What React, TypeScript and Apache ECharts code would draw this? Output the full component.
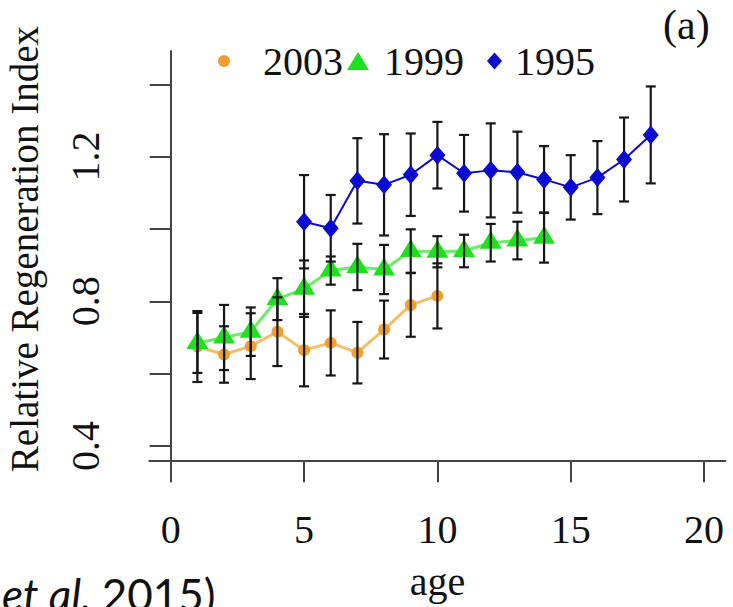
import React, { useEffect, useRef } from "react";
import * as echarts from "echarts";

// ---- data ----
const ages2003 = [1, 2, 3, 4, 5, 6, 7, 8, 9, 10];
const mean2003 = [0.675, 0.653, 0.676, 0.716, 0.665, 0.685, 0.658, 0.722, 0.79, 0.815];
const err2003 = [0.098, 0.078, 0.091, 0.095, 0.1, 0.09, 0.085, 0.08, 0.088, 0.09];

const ages1999 = [1, 2, 3, 4, 5, 6, 7, 8, 9, 10, 11, 12, 13, 14];
const mean1999 = [0.685, 0.7, 0.716, 0.806, 0.835, 0.885, 0.895, 0.888, 0.939, 0.937, 0.939, 0.962, 0.968, 0.976];
const err1999 = [0.083, 0.09, 0.067, 0.058, 0.078, 0.039, 0.064, 0.068, 0.06, 0.043, 0.045, 0.052, 0.052, 0.069];

const ages1995 = [5, 6, 7, 8, 9, 10, 11, 12, 13, 14, 15, 16, 17, 18];
const mean1995 = [1.02, 1.002, 1.133, 1.122, 1.15, 1.204, 1.154, 1.162, 1.157, 1.137, 1.115, 1.142, 1.192, 1.26];
const err1995 = [0.129, 0.092, 0.118, 0.14, 0.114, 0.092, 0.106, 0.13, 0.112, 0.092, 0.089, 0.101, 0.116, 0.134];

const xTicks = [0, 5, 10, 15, 20];
const yTicks = [0.4, 0.6, 0.8, 1.0, 1.2, 1.4];
const yTickLabels = [0.4, 0.8, 1.2];

const seriesNames = ["2003", "1999", "1995"];

const SERIF = "'Liberation Serif', 'DejaVu Serif', serif";
const SANS = "Lato, 'Open Sans', sans-serif";
const ORANGE = "#EFA030";
const ORANGE_LINE = "#F4BE68";
const GREEN = "#1EE01E";
const GREEN_LINE = "#6CEB6C";
const BLUE = "#0A0AD0";
const AXIS = "#444";

function pts(xs: number[], ys: number[]) {
  return xs.map((x, i) => [x, ys[i]]);
}
function bars(xs: number[], ys: number[], es: number[]) {
  return xs.map((x, i) => [x, ys[i] - es[i], ys[i] + es[i]]);
}

const errRender = (params: any, api: any) => {
  const x = api.value(0);
  const lo = api.value(1);
  const hi = api.value(2);
  const top = api.coord([x, hi]);
  const bot = api.coord([x, lo]);
  const w = 5;
  const style = { stroke: "#161616", lineWidth: 2.2 };
  return {
    type: "group",
    children: [
      { type: "line", shape: { x1: top[0], y1: top[1], x2: bot[0], y2: bot[1] }, style },
      { type: "line", shape: { x1: top[0] - w, y1: top[1], x2: top[0] + w, y2: top[1] }, style },
      { type: "line", shape: { x1: bot[0] - w, y1: bot[1], x2: bot[0] + w, y2: bot[1] }, style },
    ],
  };
};

export default function App() {
  const ref = useRef<HTMLDivElement>(null);
  useEffect(() => {
    if (!ref.current) return;
    const chart = echarts.init(ref.current, null, { renderer: "svg" });
    const legendText = { fontFamily: SERIF, fontSize: 40, color: "#111" };
    chart.setOption({
      animation: false,
      backgroundColor: "#fff",
      grid: {
        left: 149.4,
        right: 7.6,
        top: 51,
        bottom: 145.8,
        containLabel: false,
        outerBoundsMode: "none",
      },
      legend: [
        {
          left: 218,
          top: 41,
          padding: 0,
          itemWidth: 12,
          itemHeight: 12,
          textStyle: { ...legendText, padding: [0, 0, 0, 28] },
          data: [{ name: seriesNames[0], icon: "circle", itemStyle: { color: ORANGE } }],
          selectedMode: false,
        },
        {
          left: 347,
          top: 41,
          padding: 0,
          itemWidth: 22,
          itemHeight: 18,
          textStyle: { ...legendText, padding: [0, 0, 0, 10] },
          data: [{ name: seriesNames[1], icon: "triangle", itemStyle: { color: GREEN } }],
          selectedMode: false,
        },
        {
          left: 487,
          top: 41,
          padding: 0,
          itemWidth: 15,
          itemHeight: 17,
          textStyle: { ...legendText, padding: [0, 0, 0, 8] },
          data: [{ name: seriesNames[2], icon: "diamond", itemStyle: { color: BLUE } }],
          selectedMode: false,
        },
      ],
      xAxis: {
        type: "value",
        min: -0.8,
        max: 20.8,
        name: "age",
        nameLocation: "middle",
        nameGap: 100,
        nameTextStyle: { fontFamily: SERIF, fontSize: 40, color: "#111" },
        axisLine: { show: true, lineStyle: { color: AXIS, width: 2 } },
        axisTick: { show: true, length: 21, customValues: xTicks, lineStyle: { color: AXIS, width: 2 } },
        axisLabel: {
          customValues: xTicks,
          margin: 48,
          fontFamily: SERIF,
          fontSize: 40,
          color: "#111",
        },
        splitLine: { show: false },
      },
      yAxis: {
        type: "value",
        min: 0.358,
        max: 1.492,
        name: "Relative Regeneration Index",
        nameLocation: "middle",
        nameRotate: 90,
        nameGap: 105,
        nameTextStyle: { fontFamily: SERIF, fontSize: 39, color: "#111", padding: [0, 0, 0, 14] },
        axisLine: { show: true, lineStyle: { color: AXIS, width: 2 } },
        axisTick: { show: true, length: 21, customValues: yTicks, lineStyle: { color: AXIS, width: 2 } },
        axisLabel: {
          customValues: yTickLabels,
          rotate: 90,
          margin: 44,
          fontFamily: SERIF,
          fontSize: 40,
          color: "#111",
          formatter: (v: number) => v.toFixed(1),
        },
        splitLine: { show: false },
      },
      graphic: [
        {
          type: "text",
          left: 663,
          top: 4,
          style: { text: "(a)", font: `42px ${SERIF}`, fill: "#111" },
        },
        {
          type: "text",
          left: 2,
          top: 572,
          style: {
            text: "{i|et al. }{n|2015)}",
            rich: {
              i: { fontFamily: SANS, fontStyle: "italic", fontSize: 44, fill: "#111" },
              n: { fontFamily: SANS, fontSize: 44, fill: "#111" },
            },
          },
        },
      ],
      series: [
        {
          name: seriesNames[0],
          type: "line",
          data: pts(ages2003, mean2003),
          symbol: "circle",
          symbolSize: 12,
          itemStyle: { color: ORANGE },
          lineStyle: { color: ORANGE_LINE, width: 3 },
          z: 2,
        },
        {
          name: seriesNames[1],
          type: "line",
          data: pts(ages1999, mean1999),
          symbol: "triangle",
          symbolSize: [22, 18],
          symbolOffset: [0, -3],
          itemStyle: { color: GREEN },
          lineStyle: { color: GREEN_LINE, width: 3 },
          z: 2,
        },
        {
          type: "custom",
          renderItem: errRender,
          data: [
            ...bars(ages2003, mean2003, err2003),
            ...bars(ages1999, mean1999, err1999),
            ...bars(ages1995, mean1995, err1995),
          ],
          encode: { x: 0, y: [1, 2] },
          z: 3,
          silent: true,
        },
        {
          name: seriesNames[2],
          type: "line",
          data: pts(ages1995, mean1995),
          symbol: "diamond",
          symbolSize: [16, 19],
          itemStyle: { color: BLUE },
          lineStyle: { color: BLUE, width: 2 },
          z: 4,
        },
      ],
    });
    return () => chart.dispose();
  }, []);
  return (
    <div
      ref={ref}
      style={{ position: "fixed", left: 0, top: 0, width: 733, height: 607, background: "#fff" }}
    />
  );
}
